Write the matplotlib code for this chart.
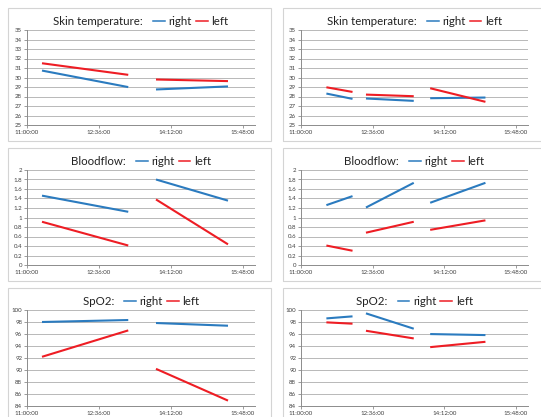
import matplotlib
matplotlib.use('Agg')
import matplotlib.pyplot as plt
import matplotlib.dates as mdates
from matplotlib.offsetbox import TextArea, DrawingArea, HPacker, AnchoredOffsetbox
from matplotlib.lines import Line2D
from matplotlib.patches import Rectangle
import pandas as pd

DAY = "2020-01-01 "

# --- data: each series is a list of segments, (times, values) ---
left_times = [["11:20", "13:15"], ["13:52", "15:28"]]
right_times = [["11:34", "12:09"], ["12:27", "13:31"], ["13:53", "15:07"]]

temp_a_right = [[30.73, 28.99], [28.74, 29.06]]
temp_a_left = [[31.5, 30.28], [29.79, 29.62]]
temp_b_right = [[28.31, 27.75], [27.79, 27.54], [27.82, 27.89]]
temp_b_left = [[28.97, 28.48], [28.2, 28.03], [28.87, 27.44]]

flow_a_right = [[1.46, 1.12], [1.80, 1.355]]
flow_a_left = [[0.91, 0.41], [1.38, 0.435]]
flow_b_right = [[1.26, 1.45], [1.21, 1.73], [1.31, 1.73]]
flow_b_left = [[0.41, 0.30], [0.68, 0.91], [0.74, 0.94]]

spo2_a_right = [[98.0, 98.33], [97.83, 97.38]]
spo2_a_left = [[92.2, 96.6], [90.19, 84.9]]
spo2_b_right = [[98.6, 98.94], [99.44, 96.88], [95.99, 95.82]]
spo2_b_left = [[97.94, 97.72], [96.54, 95.26], [93.81, 94.70]]

titles = ["Skin temperature:", "Bloodflow:", "SpO2:"]
y_ranges = [(25, 35, 1), (0, 2, 0.2), (84, 100, 2)]
x_ticks = ["11:00", "12:36", "14:12", "15:48"]
x_end = "16:04"

BLUE = '#2b7bbf'
RED = '#ee1d24'

panels = [
    (0, 0, left_times, temp_a_right, temp_a_left),
    (0, 1, right_times, temp_b_right, temp_b_left),
    (1, 0, left_times, flow_a_right, flow_a_left),
    (1, 1, right_times, flow_b_right, flow_b_left),
    (2, 0, left_times, spo2_a_right, spo2_a_left),
    (2, 1, right_times, spo2_b_right, spo2_b_left),
]

W, H = 541, 417
fig = plt.figure(figsize=(W / 100, H / 100), dpi=100)
plt.rcParams['font.family'] = ['Lato', 'DejaVu Sans']

col_x = [(27, 255), (301, 528)]
row_y = [(30, 125), (170, 265), (310, 406)]
box_x = [(8, 271), (283, 548)]
box_y = [(8, 141), (148, 281), (288, 425)]


def t(s):
    return pd.Timestamp(DAY + s)


# panel borders
for bx in box_x:
    for by in box_y:
        fig.patches.append(Rectangle((bx[0] / W, 1 - by[1] / H),
                                     (bx[1] - bx[0]) / W, (by[1] - by[0]) / H,
                                     transform=fig.transFigure, fill=False,
                                     edgecolor='#d4d4d4', linewidth=0.8))

for row, col, times, s_right, s_left in panels:
    x0, x1 = col_x[col]
    y0, y1 = row_y[row]
    ax = fig.add_axes([x0 / W, 1 - y1 / H, (x1 - x0) / W, (y1 - y0) / H])

    for seg_t, seg_v in zip(times, s_right):
        ax.plot([t(s) for s in seg_t], seg_v, color=BLUE, linewidth=1.5,
                solid_capstyle='butt')
    for seg_t, seg_v in zip(times, s_left):
        ax.plot([t(s) for s in seg_t], seg_v, color=RED, linewidth=1.5,
                solid_capstyle='butt')

    lo, hi, step = y_ranges[row]
    n = int(round((hi - lo) / step))
    yt = [lo + i * step for i in range(n + 1)]
    ax.set_ylim(lo, hi)
    ax.set_yticks(yt)
    ax.set_yticklabels([f"{v:g}" for v in yt])
    ax.set_xlim(t(x_ticks[0]), t(x_end))
    ax.set_xticks([t(s) for s in x_ticks])
    ax.xaxis.set_major_formatter(mdates.DateFormatter('%H:%M:%S'))

    ax.grid(axis='y', color='#b8b8b8', linewidth=0.7)
    ax.set_axisbelow(True)
    for side in ['top', 'right']:
        ax.spines[side].set_visible(False)
    for side in ['left', 'bottom']:
        ax.spines[side].set_color('#8c8c8c')
        ax.spines[side].set_linewidth(0.7)
    ax.tick_params(axis='both', labelsize=4.4, colors='#8c8c8c',
                   labelcolor='#404040', length=2, width=0.6, pad=1.5)

    # title with inline legend
    def dash(color):
        da = DrawingArea(11, 8, 0, 0)
        da.add_artist(Line2D([1.5, 10], [3.3, 3.3], color=color, linewidth=1.1))
        return da

    tp = dict(fontsize=8.3, color='#222222')
    box = HPacker(children=[TextArea(titles[row] + "  ", textprops=tp),
                            dash(BLUE), TextArea("right", textprops=tp),
                            dash(RED), TextArea("left", textprops=tp)],
                  align="baseline", pad=0, sep=1.5)
    anch = AnchoredOffsetbox(loc='lower center', child=box, pad=0,
                             frameon=False, bbox_to_anchor=(0.5, 1.03),
                             bbox_transform=ax.transAxes, borderpad=0)
    ax.add_artist(anch)

fig.savefig('out.png', dpi=100, facecolor='white')
